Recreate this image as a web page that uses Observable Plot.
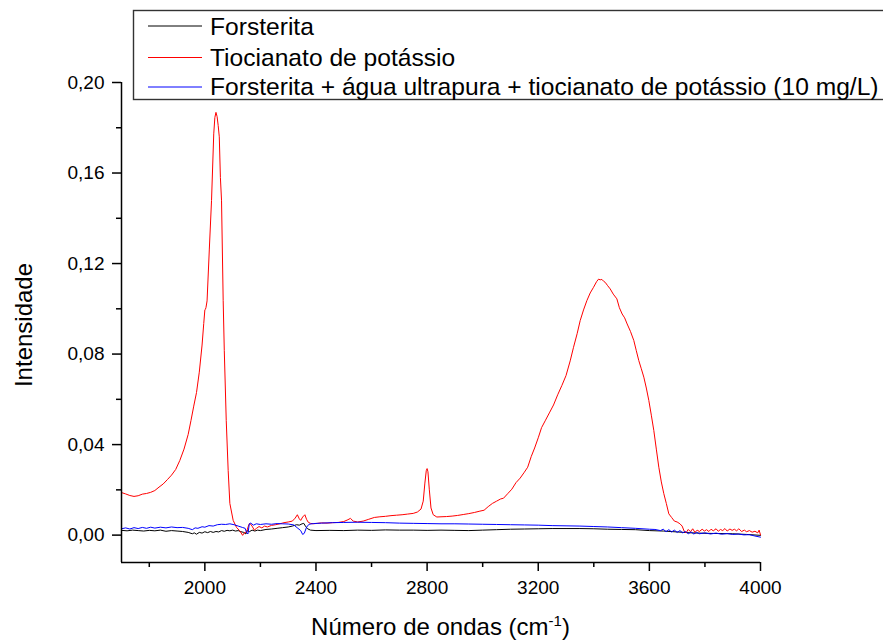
<!DOCTYPE html>
<html>
<head>
<meta charset="utf-8">
<script src="https://cdn.jsdelivr.net/npm/d3@7"></script>
<script src="https://cdn.jsdelivr.net/npm/@observablehq/plot@0.6"></script>
<style>
  html, body { margin: 0; padding: 0; background: #fff; }
  #chart { width: 883px; height: 641px; }
</style>
</head>
<body>
<div id="chart"></div>
<script>
// ---- Data ----
const seriesNames = [
  "Forsterita",
  "Tiocianato de potássio",
  "Forsterita + água ultrapura + tiocianato de potássio (10 mg/L)"
];
const seriesColors = ["#000000", "#ff0000", "#0000ff"];

const forsteritaX = [1700,1720,1740,1760,1780,1800,1820,1840,1860,1880,1900,1920,1940,1955,1962,1970,1980,1990,2000,2010,2020,2030,2040,2050,2060,2070,2080,2090,2100,2110,2120,2130,2140,2148,2152,2160,2170,2180,2190,2200,2220,2240,2260,2280,2300,2315,2330,2340,2350,2356,2362,2370,2380,2400,2450,2500,2550,2600,2650,2700,2750,2800,2850,2900,2950,3000,3050,3100,3150,3200,3250,3300,3350,3400,3450,3500,3550,3600,3650,3700,3750,3800,3850,3900,3950,4000];
const forsteritaY = [0.0021,0.0019,0.0022,0.0020,0.0018,0.0021,0.0019,0.0022,0.0017,0.0020,0.0018,0.0016,0.0012,0.0006,0.0010,0.0004,0.0012,0.0009,0.0015,0.0011,0.0016,0.0012,0.0016,0.0014,0.0020,0.0017,0.0021,0.0019,0.0022,0.0018,0.0020,0.0015,0.0012,0.0005,0.0020,0.0015,0.0022,0.0018,0.0022,0.0020,0.0025,0.0027,0.0030,0.0033,0.0036,0.0040,0.0046,0.0044,0.0050,0.0052,0.0040,0.0028,0.0022,0.0020,0.0021,0.0020,0.0022,0.0021,0.0023,0.0022,0.0022,0.0021,0.0022,0.0021,0.0020,0.0022,0.0024,0.0026,0.0027,0.0028,0.0029,0.0029,0.0029,0.0028,0.0026,0.0025,0.0024,0.0020,0.0018,0.0014,0.0010,0.0008,0.0007,0.0006,0.0003,-0.0001];

const tiocianatoX = [1700,1715,1730,1745,1760,1775,1790,1805,1820,1835,1850,1865,1880,1895,1910,1925,1940,1950,1960,1970,1980,1990,1996,2000,2002,2004,2008,2016,2024,2032,2036,2040,2044,2048,2052,2056,2060,2066,2070,2077,2084,2090,2102,2114,2125,2136,2142,2150,2158,2162,2170,2178,2186,2195,2205,2215,2225,2240,2255,2270,2285,2300,2315,2325,2333,2340,2345,2352,2360,2366,2372,2380,2390,2405,2420,2440,2460,2480,2500,2515,2524,2534,2550,2570,2590,2610,2630,2650,2670,2690,2710,2730,2750,2765,2778,2786,2792,2797,2800,2803,2808,2814,2822,2835,2850,2870,2890,2910,2930,2950,2970,2990,3005,3020,3035,3050,3065,3075,3090,3105,3120,3135,3150,3162,3175,3187,3200,3212,3225,3240,3255,3270,3285,3300,3315,3327,3340,3351,3363,3375,3387,3399,3410,3417,3423,3429,3435,3441,3450,3459,3470,3483,3492,3502,3511,3520,3532,3544,3553,3562,3571,3580,3589,3598,3607,3616,3625,3634,3643,3652,3661,3670,3680,3690,3700,3710,3718,3725,3732,3740,3748,3756,3764,3772,3780,3790,3798,3806,3814,3822,3830,3840,3848,3856,3864,3872,3880,3890,3898,3906,3914,3922,3932,3942,3950,3960,3970,3980,3990,3995,4000];
const tiocianatoY = [0.0188,0.0182,0.0175,0.0171,0.0174,0.0181,0.0184,0.0189,0.0197,0.0212,0.0226,0.0245,0.0265,0.0290,0.0330,0.0380,0.0445,0.0506,0.0570,0.0630,0.0720,0.0840,0.0935,0.0995,0.0998,0.1005,0.1035,0.1260,0.1478,0.1773,0.1845,0.1868,0.1850,0.1810,0.1760,0.1580,0.1480,0.1036,0.0815,0.0506,0.0285,0.0140,0.0065,0.0034,0.0020,-0.0001,0.0010,0.0014,0.0045,0.0052,0.0040,0.0022,0.0030,0.0038,0.0032,0.0040,0.0036,0.0043,0.0046,0.0050,0.0055,0.0058,0.0062,0.0075,0.0090,0.0072,0.0065,0.0080,0.0090,0.0070,0.0057,0.0052,0.0050,0.0052,0.0054,0.0053,0.0055,0.0056,0.0060,0.0068,0.0074,0.0062,0.0058,0.0062,0.0070,0.0078,0.0081,0.0083,0.0086,0.0088,0.0090,0.0093,0.0096,0.0102,0.0115,0.0150,0.0230,0.0285,0.0294,0.0280,0.0200,0.0120,0.0090,0.0080,0.0081,0.0082,0.0084,0.0087,0.0091,0.0095,0.0100,0.0106,0.0110,0.0126,0.0140,0.0150,0.0160,0.0163,0.0183,0.0203,0.0232,0.0252,0.0278,0.0300,0.0348,0.0385,0.0430,0.0475,0.0505,0.0540,0.0575,0.0620,0.0661,0.0705,0.0770,0.0830,0.0890,0.0948,0.0995,0.1036,0.1070,0.1095,0.1120,0.1131,0.1128,0.1130,0.1122,0.1117,0.1102,0.1088,0.1065,0.1044,0.1005,0.0977,0.0960,0.0933,0.0900,0.0860,0.0815,0.0771,0.0735,0.0698,0.0650,0.0595,0.0530,0.0462,0.0380,0.0300,0.0235,0.0183,0.0140,0.0094,0.0078,0.0062,0.0058,0.0050,0.0040,0.0018,0.0010,0.0025,0.0015,0.0028,0.0012,0.0022,0.0016,0.0026,0.0018,0.0024,0.0016,0.0026,0.0019,0.0028,0.0017,0.0025,0.0020,0.0029,0.0018,0.0027,0.0021,0.0026,0.0019,0.0028,0.0016,0.0022,0.0015,0.0020,0.0013,0.0017,0.0010,0.0022,0.0001];

const misturaX = [1700,1715,1730,1745,1760,1775,1790,1805,1820,1840,1860,1880,1900,1920,1940,1955,1965,1975,1990,2000,2015,2030,2045,2060,2075,2090,2105,2120,2135,2145,2150,2155,2160,2165,2175,2185,2200,2220,2240,2260,2280,2300,2320,2335,2345,2352,2358,2366,2375,2390,2420,2460,2500,2550,2600,2650,2700,2750,2800,2850,2900,2950,3000,3050,3100,3150,3200,3250,3300,3350,3400,3450,3500,3550,3600,3620,3640,3650,3660,3670,3680,3690,3700,3710,3720,3730,3740,3750,3760,3770,3780,3800,3820,3840,3860,3880,3900,3920,3940,3960,3980,4000];
const misturaY = [0.0028,0.0032,0.0027,0.0033,0.0029,0.0034,0.0030,0.0035,0.0031,0.0035,0.0032,0.0036,0.0033,0.0034,0.0030,0.0024,0.0032,0.0030,0.0037,0.0035,0.0042,0.0040,0.0046,0.0048,0.0047,0.0050,0.0046,0.0040,0.0034,0.0030,0.0012,0.0005,0.0050,0.0053,0.0044,0.0050,0.0047,0.0050,0.0048,0.0051,0.0050,0.0049,0.0045,0.0030,0.0020,0.0003,0.0008,0.0035,0.0048,0.0051,0.0053,0.0055,0.0056,0.0057,0.0056,0.0055,0.0053,0.0052,0.0051,0.0050,0.0050,0.0049,0.0048,0.0047,0.0046,0.0045,0.0044,0.0042,0.0041,0.0040,0.0038,0.0036,0.0033,0.0030,0.0026,0.0025,0.0020,0.0026,0.0015,0.0024,0.0014,0.0022,0.0012,0.0020,0.0010,0.0016,0.0006,0.0014,0.0005,0.0012,0.0006,0.0010,0.0005,0.0009,0.0004,0.0007,0.0003,0.0005,0.0001,0.0002,-0.0004,-0.0009];

const xDomain = [1700, 4000];
const yDomain = [-0.0121, 0.20];
const xMajorTicks = [2000, 2400, 2800, 3200, 3600, 4000];
const xMinorTicks = [1800, 2200, 2600, 3000, 3400, 3800];
const yMajorTicks = [0.00, 0.04, 0.08, 0.12, 0.16, 0.20];
const yMinorTicks = [0.02, 0.06, 0.10, 0.14, 0.18];
const xTitle = "Número de ondas (cm";
const xTitleSup = "-1";
const yTitle = "Intensidade";

// ---- Build ----
const toRows = (xs, ys) => xs.map((x, i) => ({x, y: ys[i]}));
const allSeries = [
  toRows(forsteritaX, forsteritaY),
  toRows(tiocianatoX, tiocianatoY),
  toRows(misturaX, misturaY)
];

const FONT = "'Liberation Sans', Arial, Helvetica, sans-serif";
const fmtY = v => v.toFixed(2).replace(".", ",");

const chart = Plot.plot({
  width: 883,
  height: 641,
  marginLeft: 121,
  marginRight: 123,
  marginTop: 82,
  marginBottom: 79,
  style: {fontFamily: FONT, fontSize: "19px", color: "#000", background: "#fff", overflow: "visible"},
  x: {domain: xDomain},
  y: {domain: yDomain},
  marks: [
    ...allSeries.map((rows, i) => Plot.line(rows, {x: "x", y: "y", stroke: seriesColors[i], strokeWidth: 1})),
    Plot.axisX({ticks: xMajorTicks, tickSize: 9, tickPadding: 9, tickFormat: d => String(d), label: null, strokeWidth: 1.5}),
    Plot.axisX({ticks: xMinorTicks, tickSize: 5, tickFormat: () => "", label: null, strokeWidth: 1.5}),
    Plot.axisY({ticks: yMajorTicks, tickSize: 9, tickPadding: 8, tickFormat: fmtY, label: null, strokeWidth: 1.5}),
    Plot.axisY({ticks: yMinorTicks, tickSize: 5, tickFormat: () => "", label: null, strokeWidth: 1.5}),
    Plot.ruleX([xDomain[0]], {stroke: "#000", strokeWidth: 1.5}),
    Plot.ruleY([yDomain[0]], {stroke: "#000", strokeWidth: 1.5})
  ]
});

document.getElementById("chart").appendChild(chart);

// ---- Titles and legend appended into the SVG ----
const svg = d3.select(chart);

const xt = svg.append("text")
  .attr("x", 440.5).attr("y", 635)
  .attr("text-anchor", "middle")
  .style("font-family", FONT).style("font-size", "24px").attr("fill", "#000");
xt.append("tspan").text(xTitle);
xt.append("tspan").attr("dy", "-9").style("font-size", "15px").text(xTitleSup);
xt.append("tspan").attr("dy", "9").text(")");

svg.append("text")
  .attr("transform", "translate(31.5,325) rotate(-90)")
  .attr("text-anchor", "middle")
  .style("font-family", FONT).style("font-size", "24px").attr("fill", "#000")
  .text(yTitle);

const lg = svg.append("g").attr("text-anchor", "start");
lg.append("rect")
  .attr("x", 133.5).attr("y", 10.5).attr("width", 760).attr("height", 89)
  .attr("fill", "#fff").attr("stroke", "#333").attr("stroke-width", 1.4);
const rowLineY = [26, 57.5, 87];
const rowTextY = [35, 65.5, 95];
seriesNames.forEach((name, i) => {
  lg.append("line")
    .attr("x1", 148).attr("x2", 202)
    .attr("y1", rowLineY[i]).attr("y2", rowLineY[i])
    .attr("stroke", seriesColors[i]).attr("stroke-width", 1);
  lg.append("text")
    .attr("x", 210).attr("y", rowTextY[i])
    .attr("text-anchor", "start")
    .style("font-family", FONT).style("font-size", "24.6px").attr("fill", "#000")
    .text(name);
});
</script>
</body>
</html>
